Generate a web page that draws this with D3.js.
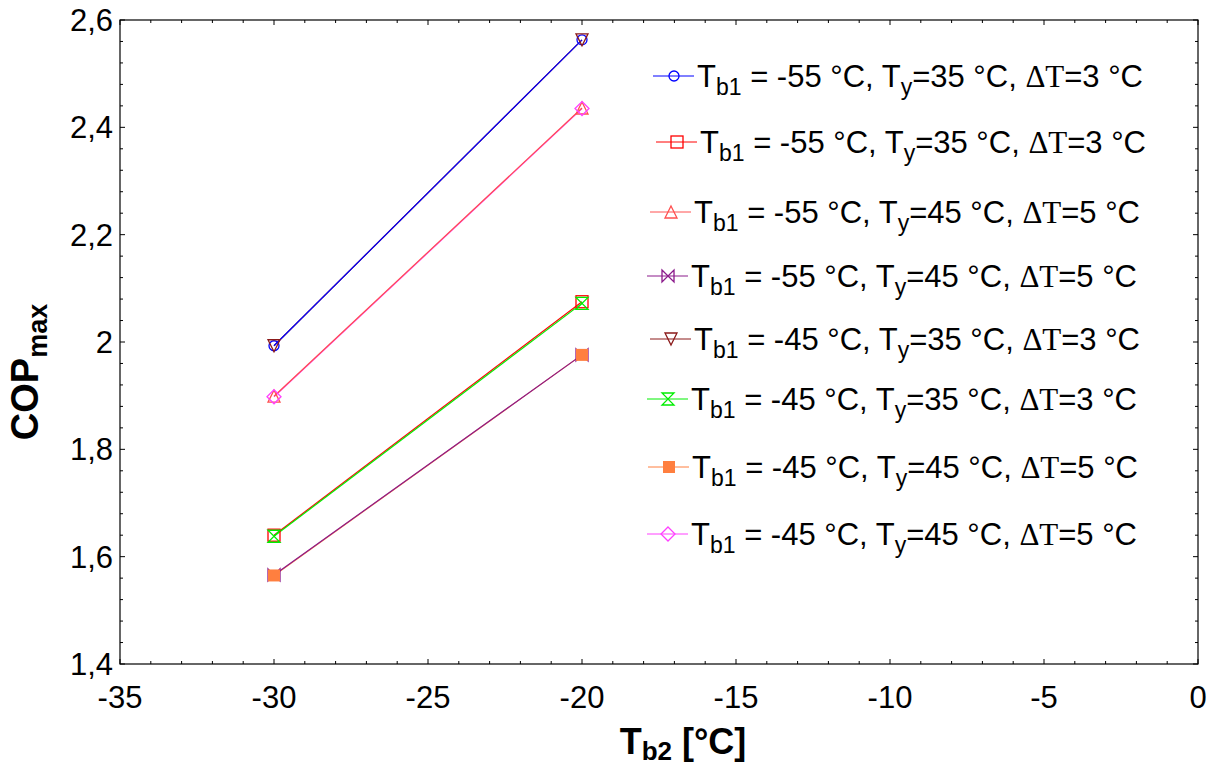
<!DOCTYPE html>
<html><head><meta charset="utf-8">
<script src="https://cdn.jsdelivr.net/npm/d3@7"></script>
<style>body{margin:0;background:#fff}svg{display:block}</style>
</head><body>
<svg id="c" width="1210" height="767"></svg>
<script>
// ---- data ----
const xValues = [-30, -20];
const seriesNames = [
  ["-55","35","3"],["-55","35","3"],["-55","45","5"],["-55","45","5"],
  ["-45","35","3"],["-45","35","3"],["-45","45","5"],["-45","45","5"]
];
const s1 = [1.993, 2.563];
const s2 = [1.640, 2.075];
const s3 = [1.899, 2.436];
const s4 = [1.566, 1.976];
const s5 = [1.993, 2.563];
const s6 = [1.638, 2.072];
const s7 = [1.565, 1.976];
const s8 = [1.898, 2.435];
const seriesValues = [s1,s2,s3,s4,s5,s6,s7,s8];
const xTicks = [-35,-30,-25,-20,-15,-10,-5,0];
const yTicks = [1.4,1.6,1.8,2.0,2.2,2.4,2.6];
const yTickLabels = ["1,4","1,6","1,8","2","2,2","2,4","2,6"];

// ---- styles ----
const colors = ["#0000ff","#ff0000","#ff5050","#8b1a8b","#8b1a1a","#00ee00","#ff7f3f","#ff40ff"];
const markers = ["circle","square","triUp","bowH","triDown","bowV","squareFill","diamond"];
const lineOrder = [4,6,1,7,2,0,3,5];
const legendY = [76,142,212,276,339,399,467,534];
const legendX = [653,656,650,647,650,647,648,647];

const svg = d3.select("#c");
const L=120, R=1198, T=20, B=664;
const x = d3.scaleLinear().domain([-35,0]).range([L,R]);
const y = d3.scaleLinear().domain([1.4,2.6]).range([B,T]);
const font = "'Liberation Sans', Arial, sans-serif";

// frame
svg.append("rect").attr("x",L).attr("y",T).attr("width",R-L).attr("height",B-T)
  .attr("fill","none").attr("stroke","#000").attr("stroke-width",1.2);

// ticks (inward on all sides)
const xMinor = d3.range(-35,0.001,1);
const yMinor = d3.range(1.4,2.6001,0.04);
const tk = svg.append("g").attr("stroke","#000").attr("stroke-width",1);
xMinor.forEach(v=>{
  const major = Math.abs(v%5)<1e-6;
  const len = major?5:3;
  tk.append("line").attr("x1",x(v)).attr("x2",x(v)).attr("y1",B).attr("y2",B-len);
  tk.append("line").attr("x1",x(v)).attr("x2",x(v)).attr("y1",T).attr("y2",T+len);
});
yMinor.forEach((v,i)=>{
  const major = i%5===0;
  const len = major?5:3;
  tk.append("line").attr("x1",L).attr("x2",L+len).attr("y1",y(v)).attr("y2",y(v));
  tk.append("line").attr("x1",R).attr("x2",R-len).attr("y1",y(v)).attr("y2",y(v));
});

// tick labels
svg.append("g").selectAll("text").data(xTicks).join("text")
  .attr("x",d=>x(d)).attr("y",708).attr("text-anchor","middle")
  .attr("font-family",font).attr("font-size",31).text(d=>d);
svg.append("g").selectAll("text").data(yTicks).join("text")
  .attr("x",113).attr("y",d=>y(d)+11).attr("text-anchor","end")
  .attr("font-family",font).attr("font-size",31).text((d,i)=>yTickLabels[i]);

// axis titles
const xt = svg.append("text").attr("x",683).attr("y",754).attr("text-anchor","middle")
  .attr("font-family",font).attr("font-size",36).attr("font-weight","bold");
xt.append("tspan").text("T");
xt.append("tspan").attr("font-size",26).attr("dy",6).text("b2");
xt.append("tspan").attr("dy",-6).text(" [°C]");

const yt = svg.append("text").attr("transform","translate(38,372) rotate(-90)")
  .attr("text-anchor","middle").attr("font-family",font).attr("font-size",38).attr("font-weight","bold");
yt.append("tspan").text("COP");
yt.append("tspan").attr("font-size",27).attr("dy",9).text("max");

// marker drawing
function drawMarker(g, type, cx, cy, color){
  const s=6;
  const m = g.append("g").attr("transform",`translate(${cx},${cy})`);
  const st = el=>el.attr("fill","none").attr("stroke",color).attr("stroke-width",1.3);
  if(type==="circle") st(m.append("circle").attr("r",5));
  else if(type==="square") st(m.append("rect").attr("x",-s).attr("y",-s).attr("width",2*s).attr("height",2*s));
  else if(type==="squareFill") m.append("rect").attr("x",-s).attr("y",-s).attr("width",2*s).attr("height",2*s).attr("fill",color);
  else if(type==="triUp") st(m.append("path").attr("d",`M0,${-s}L${s},${s}L${-s},${s}Z`));
  else if(type==="triDown") st(m.append("path").attr("d",`M${-s},${-s}L${s},${-s}L0,${s}Z`));
  else if(type==="bowH") st(m.append("path").attr("d",`M${-s},${-s}L${s},${s}L${s},${-s}L${-s},${s}Z`));
  else if(type==="bowV") st(m.append("path").attr("d",`M${-s},${-s}L${s},${-s}L${-s},${s}L${s},${s}Z`));
  else if(type==="diamond") st(m.append("path").attr("d",`M0,${-s-1}L${s+1},0L0,${s+1}L${-s-1},0Z`));
}

// series
const line = d3.line().x((d,i)=>x(xValues[i])).y(d=>y(d));
const plot = svg.append("g");
lineOrder.forEach(k=>{
  plot.append("path").attr("d",line(seriesValues[k])).attr("fill","none")
    .attr("stroke",colors[k]).attr("stroke-width",1.2);
});
seriesValues.forEach((vals,k)=>{
  vals.forEach((v,i)=>drawMarker(plot, markers[k], x(xValues[i]), y(v), colors[k]));
});

// legend
const lg = svg.append("g");
seriesNames.forEach((nm,k)=>{
  const cy = legendY[k], lx = legendX[k];
  lg.append("line").attr("x1",lx).attr("x2",lx+41).attr("y1",cy).attr("y2",cy)
    .attr("stroke",colors[k]).attr("stroke-width",1);
  drawMarker(lg, markers[k], lx+21, cy, colors[k]);
  const t = lg.append("text").attr("x",lx+44).attr("y",cy+11)
    .attr("font-family",font).attr("font-size",31);
  t.append("tspan").text("T");
  t.append("tspan").attr("font-size",23).attr("dy",8).text("b1");
  t.append("tspan").attr("dy",-8).text(` = ${nm[0]} °C, T`);
  t.append("tspan").attr("font-size",23).attr("dy",8).text("y");
  t.append("tspan").attr("dy",-8).text(`=${nm[1]} °C, `);
  t.append("tspan").attr("font-family","'Liberation Serif', 'Times New Roman', serif").text("ΔT");
  t.append("tspan").text(`=${nm[2]} °C`);
});
</script>
</body></html>
